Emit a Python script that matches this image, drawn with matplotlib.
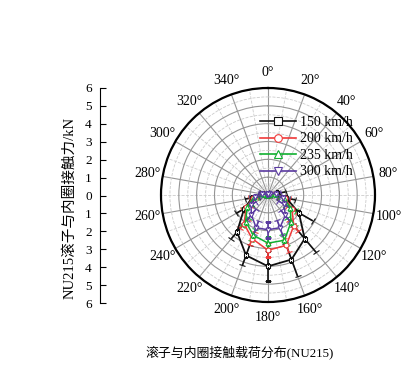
import numpy as np
import matplotlib
matplotlib.use("Agg")
import matplotlib.pyplot as plt
from matplotlib.ticker import MultipleLocator, FixedLocator

plt.rcParams['font.family'] = ['Liberation Serif', 'Noto Sans CJK SC', 'DejaVu Sans']

# ---- data ----
angles_deg = [0, 20, 40, 60, 80, 100, 120, 140, 160, 180, 200, 220, 240, 260, 280, 300, 320, 340]
f150 = [0.05, 0.05, 0.05, 0.1, 0.5, 1.05, 2.0, 3.2, 3.85, 4.0, 3.6, 2.7, 1.55, 0.9, 0.3, 0.05, 0.05, 0.05]
f200 = [0.05, 0.05, 0.05, 0.1, 0.4, 0.95, 1.55, 2.25, 3.0, 3.1, 2.6, 2.1, 1.4, 0.85, 0.3, 0.05, 0.05, 0.05]
f235 = [0.05, 0.05, 0.05, 0.1, 0.4, 0.9, 1.45, 2.0, 2.7, 2.7, 2.4, 1.95, 1.35, 0.8, 0.3, 0.05, 0.05, 0.05]
f300 = [0.05, 0.05, 0.05, 0.15, 0.45, 0.85, 1.05, 1.5, 1.95, 1.95, 1.95, 1.45, 1.1, 0.75, 0.35, 0.05, 0.05, 0.05]
e150 = [0.0, 0.0, 0.0, 0.1, 0.5, 0.5, 0.9, 1.0, 1.0, 0.85, 0.6, 0.5, 0.5, 0.4, 0.2, 0.0, 0.0, 0.0]
e200 = [0.0, 0.0, 0.0, 0.05, 0.25, 0.3, 0.35, 0.4, 0.4, 0.4, 0.4, 0.35, 0.3, 0.25, 0.15, 0.0, 0.0, 0.0]
e235 = [0.0, 0.0, 0.0, 0.05, 0.25, 0.3, 0.35, 0.35, 0.35, 0.35, 0.35, 0.3, 0.3, 0.25, 0.15, 0.0, 0.0, 0.0]
e300 = [0.0, 0.0, 0.0, 0.05, 0.3, 0.35, 0.4, 0.4, 0.45, 0.45, 0.4, 0.4, 0.35, 0.3, 0.2, 0.0, 0.0, 0.0]
labels = ['150 km/h', '200 km/h', '235 km/h', '300 km/h']
colors = ['#111111', '#f03a3a', '#10b030', '#5a3aa0']
markers = ['s', 'o', '^', 'v']
r_ticks = [1, 2, 3, 4, 5, 6]
left_ticks = [-6, -5, -4, -3, -2, -1, 0, 1, 2, 3, 4, 5, 6]

W, H = 418, 388
fig = plt.figure(figsize=(W / 100, H / 100), dpi=100)

cx, cy, R = 268, 195, 107
ax = fig.add_axes([(cx - R) / W, (H - cy - R) / H, 2 * R / W, 2 * R / H], projection='polar')
ax.set_theta_zero_location('N')
ax.set_theta_direction(-1)
ax.set_ylim(0, 6)

ax.set_thetagrids(angles_deg, labels=[f'{a}°' for a in angles_deg], fontsize=10)
ax.xaxis.set_minor_locator(FixedLocator(np.deg2rad(np.arange(10, 360, 20))))
ax.set_yticks(r_ticks)
ax.set_yticklabels([])
ax.yaxis.set_minor_locator(MultipleLocator(0.5))
ax.grid(which='major', color='#959595', lw=0.8, ls='-')
ax.grid(which='minor', color='#cccccc', lw=0.6, ls='--')
ax.tick_params(axis='x', pad=4, length=0)
ax.tick_params(axis='both', which='minor', length=0)
ax.spines['polar'].set_linewidth(1.6)
ax.spines['polar'].set_color('black')

theta = np.deg2rad(angles_deg + [angles_deg[0]])
series = [(f150, e150), (f200, e200), (f235, e235), (f300, e300)]
handles = []
for (vals, errs), lab, col, mk in zip(series, labels, colors, markers):
    v = vals + [vals[0]]
    e = errs + [errs[0]]
    ax.errorbar(theta, v, yerr=e, color=col, lw=1.3 if col == '#111111' else 1.1,
                marker=mk, ms=3.5, mfc='white', mec=col, mew=0.8,
                capsize=2.5, elinewidth=1.2, capthick=1.2, zorder=3)
    h, = ax.plot([], [], color=col, lw=1.2, marker=mk, ms=5.5, mfc='white', mec=col, mew=0.8, label=lab)
    handles.append(h)

fig.legend(handles=handles, loc='upper left', bbox_to_anchor=(260 / W, 1 - 116 / H),
           frameon=False, fontsize=10, handlelength=2.6, handletextpad=0.3,
           labelspacing=0.25, borderaxespad=0, borderpad=0)

# left linear axis
y_top, y_bot, x_ax = 88, 303, 100
lax = fig.add_axes([x_ax / W, (H - y_bot) / H, 0.001, (y_bot - y_top) / H])
lax.set_ylim(-6, 6)
lax.set_yticks(left_ticks)
lax.set_yticklabels([str(abs(t)) for t in left_ticks], fontsize=9.5)
lax.set_xticks([])
for s in ['top', 'right', 'bottom']:
    lax.spines[s].set_visible(False)
lax.spines['left'].set_linewidth(0.8)
lax.tick_params(axis='y', direction='in', length=4, width=0.8, pad=6)
lax.patch.set_alpha(0)

fig.text(70 / W, 1 - 208 / H, 'NU215滚子与内圈接触力/kN', rotation=90,
         ha='center', va='center', fontsize=10.5)
fig.text(240 / W, 1 - 352 / H, '滚子与内圈接触载荷分布(NU215)',
         ha='center', va='center', fontsize=9.3)

fig.savefig('out.png', dpi=100)
